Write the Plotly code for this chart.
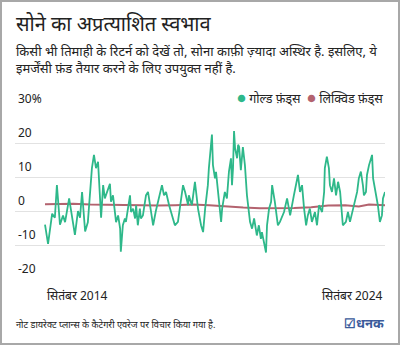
import plotly.graph_objects as go

# ---- data ----
gold_year = [2014.67, 2014.76, 2014.88, 2014.96, 2015.02, 2015.11, 2015.20, 2015.26, 2015.38, 2015.49,
             2015.55, 2015.64, 2015.70, 2015.76, 2015.85, 2015.93, 2016.05, 2016.11, 2016.17, 2016.23,
             2016.29, 2016.32, 2016.38, 2016.43, 2016.58, 2016.61, 2016.67, 2016.73, 2016.76, 2016.82,
             2016.88, 2016.90, 2016.96, 2017.02, 2017.05, 2017.17, 2017.20, 2017.26, 2017.32, 2017.35,
             2017.40, 2017.46, 2017.49, 2017.55, 2017.64, 2017.70, 2017.76, 2017.85, 2017.93, 2018.02,
             2018.11, 2018.17, 2018.23, 2018.32, 2018.43, 2018.49, 2018.58, 2018.64, 2018.73, 2018.79,
             2018.88, 2018.90, 2018.99, 2019.08, 2019.17, 2019.26, 2019.32, 2019.38, 2019.46, 2019.49,
             2019.55, 2019.58, 2019.61, 2019.67, 2019.70, 2019.73, 2019.82, 2019.85, 2019.88, 2019.96,
             2020.02, 2020.08, 2020.14, 2020.17, 2020.20, 2020.23, 2020.26, 2020.32, 2020.35, 2020.38,
             2020.43, 2020.49, 2020.55, 2020.58, 2020.61, 2020.70, 2020.76, 2020.82, 2020.90, 2020.96,
             2021.02, 2021.05, 2021.11, 2021.17, 2021.20, 2021.26, 2021.32, 2021.35, 2021.43, 2021.52,
             2021.58, 2021.70, 2021.79, 2021.88, 2021.99, 2022.11, 2022.17, 2022.23, 2022.29, 2022.35,
             2022.40, 2022.46, 2022.52, 2022.61, 2022.67, 2022.73, 2022.82, 2022.88, 2022.90, 2022.96,
             2023.02, 2023.05, 2023.11, 2023.17, 2023.23, 2023.29, 2023.35, 2023.40, 2023.43, 2023.52,
             2023.58, 2023.64, 2023.73, 2023.79, 2023.85, 2023.90, 2023.96, 2024.02, 2024.05, 2024.11,
             2024.14, 2024.20, 2024.29, 2024.32, 2024.40, 2024.46, 2024.52, 2024.58, 2024.61, 2024.67]
gold_ret = [-4.0, -9.7, -0.8, -2.0, 7.6, -4.0, -1.3, -3.3, 3.7, -4.0,
            -7.0, 0.0, -2.0, 5.6, -6.0, -3.3, 12.6, 16.5, 12.6, 14.5,
            5.6, -2.0, 7.6, 3.7, 8.0, 2.7, 4.6, -0.3, -3.3, -1.3,
            -5.2, -12.0, -4.2, -2.2, -3.2, 4.6, -0.3, 0.7, -2.2, 1.7,
            -4.2, 0.7, -2.2, -1.3, 4.6, 5.6, 1.7, -4.2, 0.0, 4.2,
            7.6, 4.6, 5.6, 1.7, -2.2, -4.2, -3.2, 1.7, 7.6, 5.6,
            1.7, 4.6, 1.7, 8.6, 0.7, -4.2, -6.2, 0.7, 7.6, 12.6,
            19.5, 22.5, 13.5, 9.6, 11.5, 8.6, -2.2, -3.2, 0.7, 5.6,
            3.7, 11.6, 15.5, 7.6, 12.6, 23.5, 18.5, 15.5, 19.5, 18.8,
            12.0, 18.8, 13.5, 9.6, 4.6, -3.2, -5.2, -2.2, -7.2, -4.2,
            -8.2, -6.2, -9.7, -12.2, -4.2, 0.7, 2.7, 7.6, 2.7, -4.2,
            -3.2, -0.3, 3.7, -1.3, 4.6, 10.6, 5.6, 7.6, 0.7, -4.2,
            -1.3, 0.7, -3.2, -0.3, -4.2, 1.7, -0.3, 5.6, 12.6, 16.0,
            12.6, 7.6, 5.6, 9.6, 4.6, 8.6, 5.6, -2.2, -4.2, -3.2,
            -0.3, -3.2, 0.7, 2.7, 5.6, 9.6, 11.6, 7.6, 4.6, 5.6,
            10.6, 13.5, 16.5, 9.6, 5.6, 1.7, -3.2, -1.3, 3.7, 5.6]

liquid_year = [2014.67, 2015.5, 2016.0, 2016.5, 2017.0, 2017.5, 2018.0, 2018.5, 2019.0, 2019.5,
               2020.0, 2020.5, 2021.0, 2021.5, 2022.0, 2022.5, 2023.0, 2023.5, 2023.9, 2024.2, 2024.67]
liquid_ret = [2.0, 2.1, 1.9, 1.8, 1.6, 1.5, 1.6, 1.7, 1.9, 1.7,
              1.3, 1.0, 0.8, 0.8, 0.9, 1.1, 1.6, 1.7, 1.3, 1.9, 1.7]

y_ticks = [30, 20, 10, 0, -10, -20]
y_tick_text = ["30%", "20", "10", "0", "-10", "-20"]
x_labels = ["सितंबर 2014", "सितंबर 2024"]

title = "सोने का अप्रत्याशित स्वभाव"
subtitle = "किसी भी तिमाही के रिटर्न को देखें तो, सोना काफ़ी ज़्यादा अस्थिर है. इसलिए, ये<br>इमर्जेंसी फ़ंड तैयार करने के लिए उपयुक्त नहीं है."
note = "नोट डायरेक्ट प्लान्स के कैटेगरी एवरेज पर विचार किया गया है."
series_names = ["गोल्ड फ़ंड्स", "लिक्विड फ़ंड्स"]

GOLD = "#2eb88a"
LIQ = "#b3636f"
FONT = "Noto Sans, Lato, sans-serif"
TXT = "#222222"

W, H = 400, 345
ML, MR, MT, MB = 15, 15, 109, 66
PW, PH = W - ML - MR, H - MT - MB

fig = go.Figure()
fig.add_trace(go.Scatter(x=liquid_year, y=liquid_ret, mode="lines",
                         line=dict(color=LIQ, width=2), name=series_names[1], showlegend=False))
fig.add_trace(go.Scatter(x=gold_year, y=gold_ret, mode="lines",
                         line=dict(color=GOLD, width=1.8), name=series_names[0], showlegend=False))

x0 = gold_year[0] - 30 / 34
fig.update_xaxes(range=[x0, gold_year[-1]], showgrid=False, zeroline=False,
                 showticklabels=False, ticks="", showline=False)
fig.update_yaxes(range=[-20, 30], tickvals=y_ticks, showticklabels=False, ticks="",
                 showgrid=True, gridcolor="#e2e2e2", gridwidth=1.3, zeroline=False, showline=False)

ann = []
for v, t in zip(y_ticks, y_tick_text):
    ann.append(dict(x=0, xref="paper", y=v, yref="y", text=t, showarrow=False,
                    xanchor="left", yanchor="bottom", yshift=0, xshift=1,
                    font=dict(family=FONT, size=12, color=TXT)))
ann.append(dict(x=gold_year[0], xref="x", y=-20, yref="y", text=x_labels[0], showarrow=False,
                xanchor="left", yanchor="top", yshift=-6, font=dict(family=FONT, size=12, color=TXT)))
ann.append(dict(x=gold_year[-1], xref="x", y=-20, yref="y", text=x_labels[1], showarrow=False,
                xanchor="right", yanchor="top", yshift=-6, font=dict(family=FONT, size=12, color=TXT)))
ann.append(dict(x=1, xref="paper", y=30, yref="y", showarrow=False, xanchor="right", yanchor="bottom",
                yshift=0,
                text=f'<span style="color:{GOLD};font-size:15px">●</span> {series_names[0]}  '
                     f'<span style="color:{LIQ};font-size:15px">●</span> {series_names[1]}',
                font=dict(family=FONT, size=12.5, color=TXT)))
# title / subtitle / note / logo in pixel-derived paper coords
def px_x(px):
    return (px - ML) / PW
def px_y(py):
    return (H - MB - py) / PH
ann.append(dict(x=px_x(14), y=px_y(8), xref="paper", yref="paper", xanchor="left", yanchor="top",
                text=title, showarrow=False, font=dict(family=FONT, size=20, color=TXT)))
ann.append(dict(x=px_x(14), y=px_y(40), xref="paper", yref="paper", xanchor="left", yanchor="top",
                align="left", text=subtitle, showarrow=False,
                font=dict(family=FONT, size=13, color=TXT)))
ann.append(dict(x=px_x(14), y=px_y(324), xref="paper", yref="paper", xanchor="left", yanchor="middle",
                text=note, showarrow=False, font=dict(family=FONT, size=9.2, color=TXT)))
ann.append(dict(x=px_x(386), y=px_y(323), xref="paper", yref="paper", xanchor="right", yanchor="middle",
                text="<b>☑धनक</b>", showarrow=False, font=dict(family=FONT, size=13, color="#3b5b9b")))

fig.update_layout(
    width=W, height=H, margin=dict(l=ML, r=MR, t=MT, b=MB),
    paper_bgcolor="white", plot_bgcolor="white", annotations=ann,
    shapes=[dict(type="rect", xref="paper", yref="paper",
                 x0=px_x(1), x1=px_x(W - 1), y0=px_y(H - 1), y1=px_y(1),
                 line=dict(color="#a8a8a8", width=2), layer="above")],
)

fig.write_html("out.html")
